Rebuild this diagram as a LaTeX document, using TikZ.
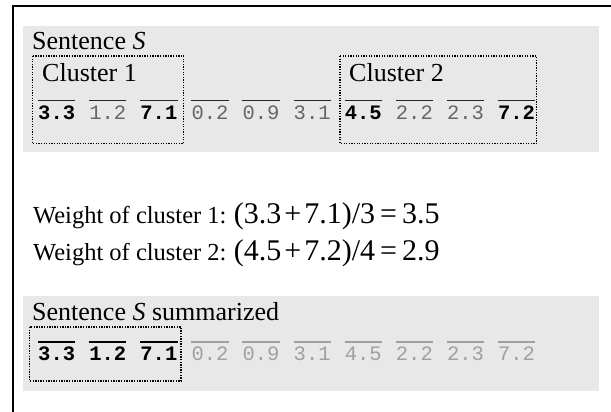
\documentclass[tikz,border=0pt]{standalone}
\usepackage{fontspec}
\setmainfont{Liberation Serif}
\newfontfamily\monofont{Liberation Mono}
\definecolor{panel}{HTML}{E8E8E8}
\definecolor{midgray}{HTML}{666666}
\definecolor{fadegray}{HTML}{A0A0A0}

\begin{document}
\begin{tikzpicture}[x=1pt,y=-1pt,
  label/.style={anchor=base west,inner sep=0pt,font=\fontsize{26}{30}\selectfont},
  wlabel/.style={anchor=base west,inner sep=0pt,font=\fontsize{24.5}{28}\selectfont},
  formula/.style={anchor=base west,inner sep=0pt,font=\fontsize{30}{34}\selectfont},
  tok/.style={anchor=base west,inner sep=0pt,font=\fontsize{20.5}{24}\selectfont\monofont},
  boldtok/.style={tok,text=black,font=\fontsize{20.5}{24}\selectfont\monofont\bfseries},
  cluster/.style={draw=black,line width=1.3pt,dash pattern=on 1.3pt off 1.3pt},
  bar/.style={line width=1.1pt}]
\useasboundingbox (0,0) rectangle (611,412);
\fill[white] (0,0) rectangle (611,412);

% outer frame (runs off the right and bottom edges)
\draw[line width=2pt] (12.7,430) -- (12.7,6) -- (630,6);

% ---- upper panel: the sentence with its two clusters ----
\fill[panel] (22.5,26) rectangle (599,151.5);
\node[label] (title1) at (32,50) {Sentence \textit{S}};
\draw[cluster] (32.3,56) rectangle (183.5,143.5);
\draw[cluster] (340,56) rectangle (536.5,143.5);
\node[label] (c1) at (42,82) {Cluster 1};
\node[label] (c2) at (349,82) {Cluster 2};

\foreach \v/\w [count=\i from 0] in {3.3/b,1.2/n,7.1/b,0.2/n,0.9/n,3.1/n,4.5/b,2.2/n,2.3/n,7.2/b}{
  \if\w b
    \node[boldtok] (u\i) at (38+51.1*\i,119.5) {\v};
  \else
    \node[tok,text=midgray] (u\i) at (38+51.1*\i,119.5) {\v};
  \fi
  \draw[bar,black!85] ([yshift=19pt]u\i.base west) -- ([yshift=19pt]u\i.base east);
}

% ---- cluster weights ----
\node[wlabel] (w1) at (33,223) {Weight of cluster 1:};
\node[formula] (f1) at ([xshift=7pt]w1.base east) {(3.3\hspace{3pt}+\hspace{3pt}7.1)/3\hspace{5pt}=\hspace{5pt}3.5};
\node[wlabel] (w2) at (33,260) {Weight of cluster 2:};
\node[formula] (f2) at ([xshift=7pt]w2.base east) {(4.5\hspace{3pt}+\hspace{3pt}7.2)/4\hspace{5pt}=\hspace{5pt}2.9};

% ---- lower panel: the summarized sentence ----
\fill[panel] (22.5,296) rectangle (599,391);
\node[label] (title2) at (32,320) {Sentence \textit{S} summarized};
\draw[cluster] (29.5,327) rectangle (181,381);

\foreach \v/\w [count=\i from 0] in {3.3/b,1.2/b,7.1/b,0.2/n,0.9/n,3.1/n,4.5/n,2.2/n,2.3/n,7.2/n}{
  \if\w b
    \node[boldtok] (s\i) at (38+51.1*\i,360) {\v};
    \draw[line width=2pt,black] ([yshift=18pt]s\i.base west) -- ([yshift=18pt]s\i.base east);
  \else
    \node[tok,text=fadegray] (s\i) at (38+51.1*\i,360) {\v};
    \draw[bar,fadegray] ([yshift=18pt]s\i.base west) -- ([yshift=18pt]s\i.base east);
  \fi
}
\end{tikzpicture}
\end{document}
